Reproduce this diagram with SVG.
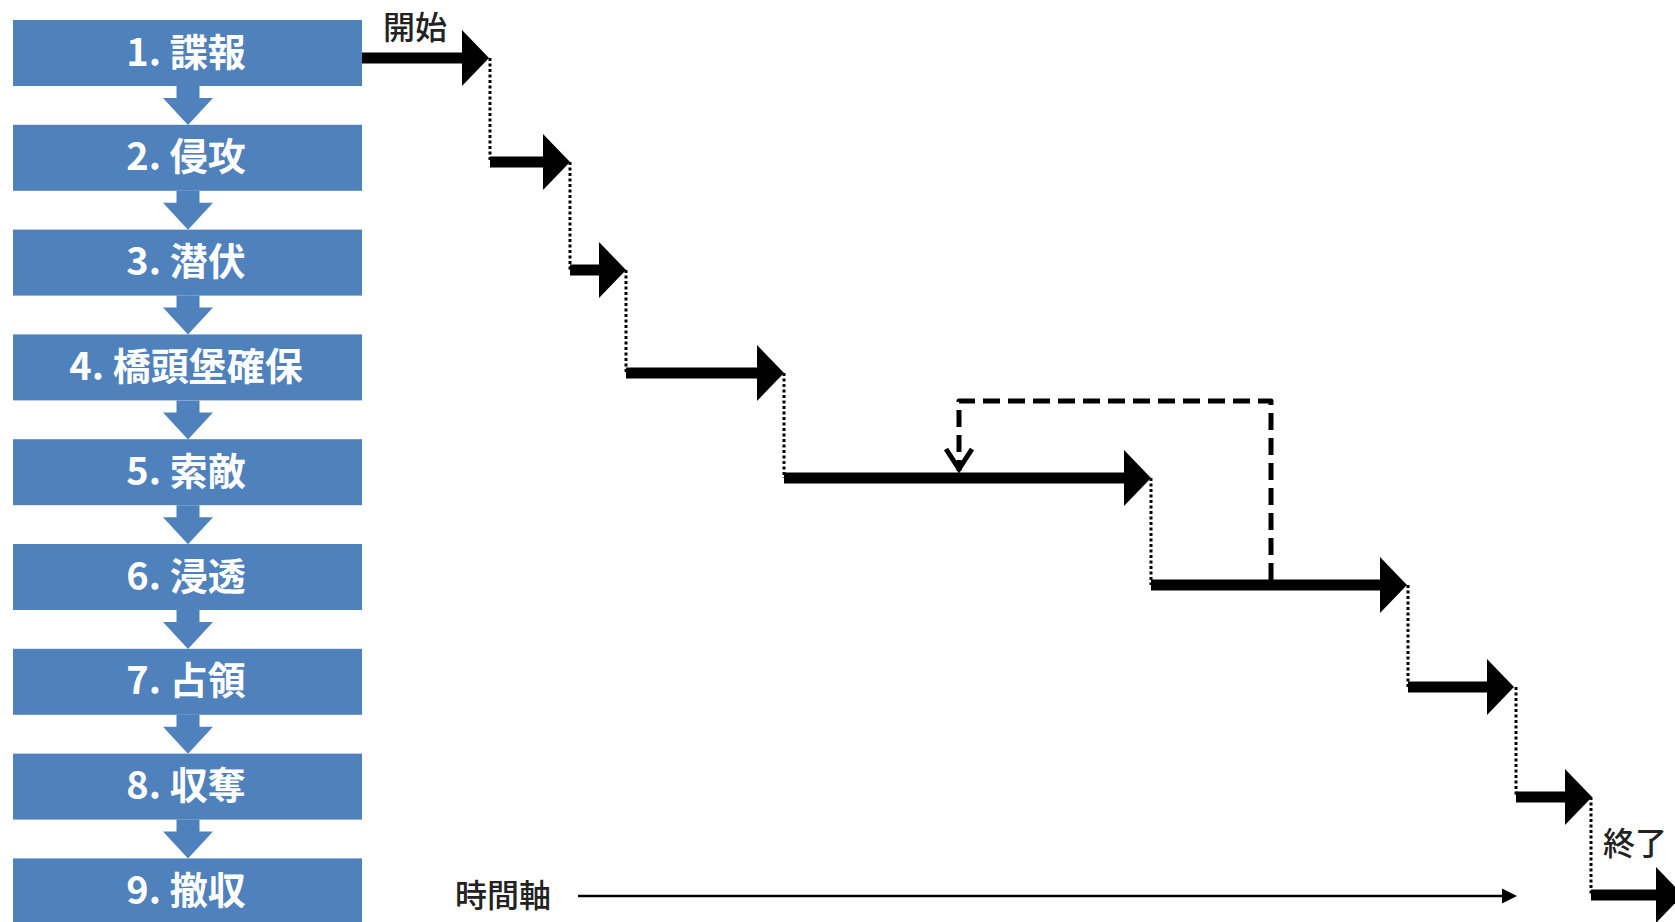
<svg xmlns="http://www.w3.org/2000/svg" xmlns:xlink="http://www.w3.org/1999/xlink" width="1675" height="922" viewBox="0 0 1675 922">
<style>
.box{fill:#4f81bd}
.bt{fill:#ffffff;font-family:"Noto Sans CJK JP","Noto Sans CJK SC",sans-serif;font-size:38px;font-weight:bold;text-anchor:middle}
.lbl{fill:#222222;font-family:"Noto Sans CJK JP","Noto Sans CJK SC",sans-serif;font-size:32px;font-weight:500}
.step{stroke:#000;stroke-width:11;fill:none;marker-end:url(#head)}
.dot{stroke:#000;stroke-width:3;stroke-dasharray:3 2.5;fill:none}
.dash{stroke:#000;stroke-width:5;stroke-dasharray:17 8;fill:none;stroke-linejoin:round}
.axis{stroke:#000;stroke-width:2.5;fill:none;marker-end:url(#small)}
.dn{fill:#4f81bd}
</style>
<defs>
<marker id="head" markerUnits="userSpaceOnUse" markerWidth="28" markerHeight="58" refX="1" refY="28" orient="auto" overflow="visible">
<path d="M0,0 L27,28 L0,56 z" fill="#000"/>
</marker>
<marker id="small" markerUnits="userSpaceOnUse" markerWidth="16" markerHeight="16" refX="1" refY="7.5" orient="auto" overflow="visible">
<path d="M0,0 L15,7.5 L0,15 z" fill="#000"/>
</marker>
<marker id="vee" markerUnits="userSpaceOnUse" markerWidth="30" markerHeight="40" refX="0" refY="0" orient="auto" overflow="visible">
<path d="M-22,-13 L-2,0 L-22,13" fill="none" stroke="#000" stroke-width="5" stroke-linejoin="miter"/>
</marker>
<path id="dn" d="M-11.5,0 h23 v12 h13.5 l-25,27 l-25,-27 h13.5 z"/>
</defs>

<g id="node1"><rect class="box" x="13" y="20" width="349" height="66"/><text class="bt" x="186" y="65.5">1. 諜報</text></g>
<g id="node2"><rect class="box" x="13" y="124.8" width="349" height="66"/><text class="bt" x="186" y="170.3">2. 侵攻</text></g>
<g id="node3"><rect class="box" x="13" y="229.6" width="349" height="66"/><text class="bt" x="186" y="275.1">3. 潜伏</text></g>
<g id="node4"><rect class="box" x="13" y="334.4" width="349" height="66"/><text class="bt" x="186" y="379.9">4. 橋頭堡確保</text></g>
<g id="node5"><rect class="box" x="13" y="439.2" width="349" height="66"/><text class="bt" x="186" y="484.7">5. 索敵</text></g>
<g id="node6"><rect class="box" x="13" y="544" width="349" height="66"/><text class="bt" x="186" y="589.5">6. 浸透</text></g>
<g id="node7"><rect class="box" x="13" y="648.8" width="349" height="66"/><text class="bt" x="186" y="694.3">7. 占領</text></g>
<g id="node8"><rect class="box" x="13" y="753.6" width="349" height="66"/><text class="bt" x="186" y="799.1">8. 収奪</text></g>
<g id="node9"><rect class="box" x="13" y="858.4" width="349" height="66"/><text class="bt" x="186" y="903.9">9. 撤収</text></g>

<g id="flow-arrows">
<use xlink:href="#dn" href="#dn" class="dn" x="188" y="86"/>
<use xlink:href="#dn" href="#dn" class="dn" x="188" y="190.8"/>
<use xlink:href="#dn" href="#dn" class="dn" x="188" y="295.6"/>
<use xlink:href="#dn" href="#dn" class="dn" x="188" y="400.4"/>
<use xlink:href="#dn" href="#dn" class="dn" x="188" y="505.2"/>
<use xlink:href="#dn" href="#dn" class="dn" x="188" y="610"/>
<use xlink:href="#dn" href="#dn" class="dn" x="188" y="714.8"/>
<use xlink:href="#dn" href="#dn" class="dn" x="188" y="819.6"/>
</g>

<g id="connectors">
<line class="step" x1="362" y1="58" x2="463" y2="58"/>
<line class="dot" x1="490" y1="58" x2="490" y2="162"/>
<line class="step" x1="490" y1="162" x2="544" y2="162"/>
<line class="dot" x1="570" y1="162" x2="570" y2="270"/>
<line class="step" x1="570" y1="270" x2="600" y2="270"/>
<line class="dot" x1="626" y1="270" x2="626" y2="373"/>
<line class="step" x1="626" y1="373" x2="758" y2="373"/>
<line class="dot" x1="784" y1="373" x2="784" y2="478"/>
<line class="step" x1="784" y1="478" x2="1125" y2="478"/>
<line class="dot" x1="1151" y1="478" x2="1151" y2="585"/>
<line class="step" x1="1151" y1="585" x2="1381" y2="585"/>
<line class="dot" x1="1408" y1="585" x2="1408" y2="687"/>
<line class="step" x1="1408" y1="687" x2="1488" y2="687"/>
<line class="dot" x1="1516" y1="687" x2="1516" y2="797"/>
<line class="step" x1="1516" y1="797" x2="1566" y2="797"/>
<line class="dot" x1="1591" y1="797" x2="1591" y2="895"/>
<line class="step" x1="1591" y1="895" x2="1657" y2="895"/>
<path class="dash" d="M1271,580 V401 H959 V471" marker-end="url(#vee)"/>
<line class="axis" x1="578" y1="896" x2="1503" y2="896"/>
</g>

<g id="labels">
<text class="lbl" x="383" y="39">開始</text>
<text class="lbl" x="1603" y="855">終了</text>
<text class="lbl" x="455" y="907">時間軸</text>
</g>
</svg>
